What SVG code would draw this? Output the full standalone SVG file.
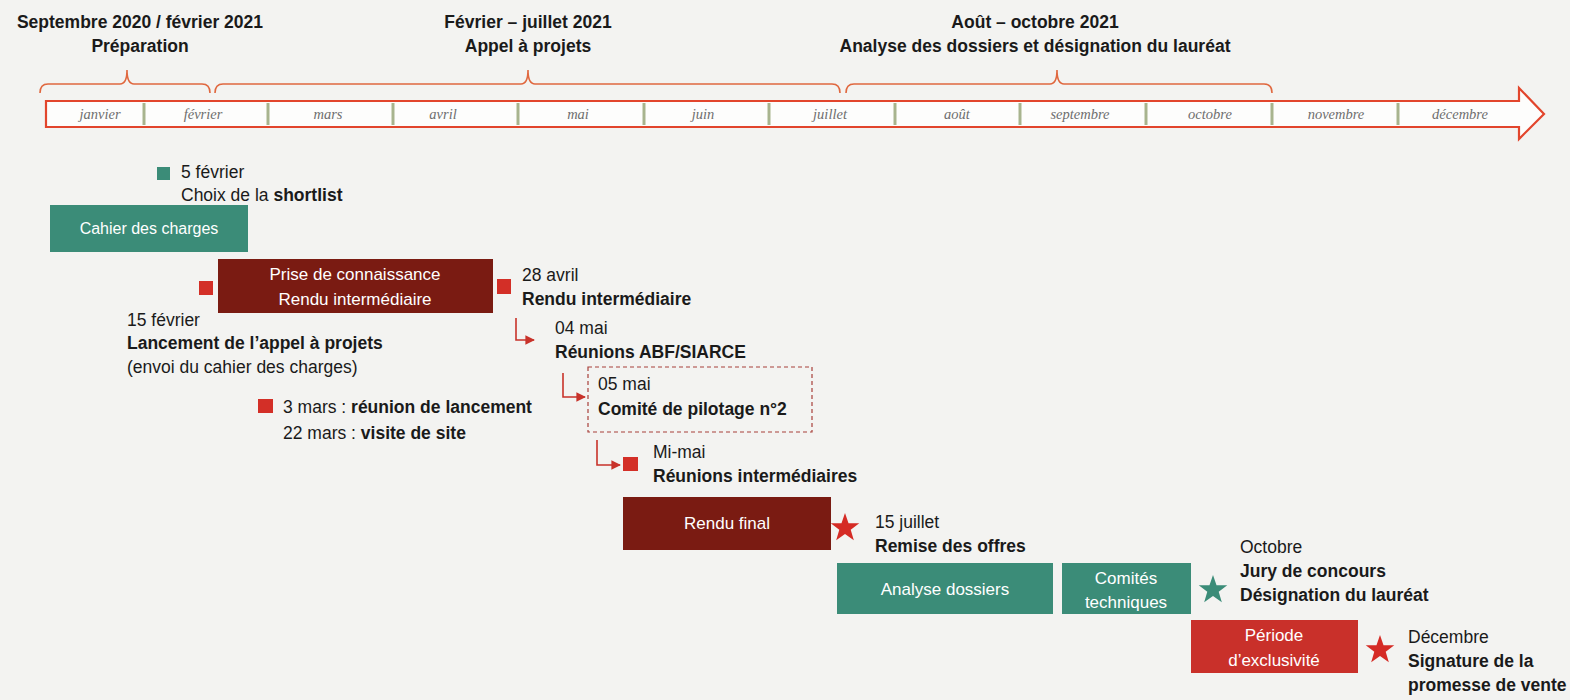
<svg xmlns="http://www.w3.org/2000/svg" width="1570" height="700" viewBox="0 0 1570 700">
<style>
text{font-family:"Liberation Sans",Arial,sans-serif;font-size:17.5px;fill:#1a1a1a}
.b{font-weight:bold}
.h{font-weight:bold;font-size:17.5px;text-anchor:middle}
.m{font-family:"Liberation Serif","Times New Roman",serif;font-style:italic;font-size:14.5px;fill:#6e6e6e;text-anchor:middle}
.w{fill:#fff;text-anchor:middle;font-size:17px}
.teal{fill:#3b8c78}
.dred{fill:#7a1b12}
.red{fill:#c9302a}
.sq{fill:#d32f27}
.brace{fill:none;stroke:#e0683f;stroke-width:1.6}
.div{stroke:#a8b48e;stroke-width:3}
.conn{fill:none;stroke:#c8322a;stroke-width:1.6}
</style>
<defs>
<marker id="ah" viewBox="0 0 10 10" refX="9" refY="5" markerWidth="6" markerHeight="6" orient="auto">
<path d="M0,0 L10,5 L0,10 z" fill="#c8322a"/>
</marker>
<polygon id="star" points="0,-15 3.53,-4.85 14.27,-4.64 5.71,1.85 8.82,12.14 0,6 -8.82,12.14 -5.71,1.85 -14.27,-4.64 -3.53,-4.85"/>
</defs>
<rect width="1570" height="700" fill="#f3f3f1"/>

<g id="headers">
<text class="h" x="140" y="28">Septembre 2020 / février 2021</text>
<text class="h" x="140" y="52">Préparation</text>
<text class="h" x="528" y="28">Février – juillet 2021</text>
<text class="h" x="528" y="52">Appel à projets</text>
<text class="h" x="1035" y="28">Août – octobre 2021</text>
<text class="h" x="1035" y="52">Analyse des dossiers et désignation du lauréat</text>
</g>

<g id="braces">
<path class="brace" d="M40,93 Q40,84 48,84 L120,84 Q127,84 127,70 Q127,84 134,84 L202,84 Q210,84 210,93"/>
<path class="brace" d="M215,93 Q215,84 223,84 L521,84 Q528,84 528,70 Q528,84 535,84 L832,84 Q840,84 840,93"/>
<path class="brace" d="M846,93 Q846,84 854,84 L1050,84 Q1057,84 1057,70 Q1057,84 1064,84 L1264,84 Q1272,84 1272,93"/>
</g>

<g id="timeline">
<path d="M46,101 H1519 V88 L1544,114 L1519,139 V127 H46 Z" fill="#fdfdfc" stroke="#e2452c" stroke-width="2.2"/>
<g class="div">
<line x1="144" y1="103" x2="144" y2="125"/>
<line x1="268" y1="103" x2="268" y2="125"/>
<line x1="393" y1="103" x2="393" y2="125"/>
<line x1="518" y1="103" x2="518" y2="125"/>
<line x1="644" y1="103" x2="644" y2="125"/>
<line x1="769" y1="103" x2="769" y2="125"/>
<line x1="895" y1="103" x2="895" y2="125"/>
<line x1="1020" y1="103" x2="1020" y2="125"/>
<line x1="1146" y1="103" x2="1146" y2="125"/>
<line x1="1272" y1="103" x2="1272" y2="125"/>
<line x1="1398" y1="103" x2="1398" y2="125"/>
</g>
<text class="m" x="100" y="119">janvier</text>
<text class="m" x="203" y="119">février</text>
<text class="m" x="328" y="119">mars</text>
<text class="m" x="443" y="119">avril</text>
<text class="m" x="578" y="119">mai</text>
<text class="m" x="703" y="119">juin</text>
<text class="m" x="830" y="119">juillet</text>
<text class="m" x="957" y="119">août</text>
<text class="m" x="1080" y="119">septembre</text>
<text class="m" x="1210" y="119">octobre</text>
<text class="m" x="1336" y="119">novembre</text>
<text class="m" x="1460" y="119">décembre</text>
</g>

<g id="connectors">
<path class="conn" d="M516,318 V340 H534" marker-end="url(#ah)"/>
<path class="conn" d="M563,373 V397 H585" marker-end="url(#ah)"/>
<path class="conn" d="M597,440 V465 H620" marker-end="url(#ah)"/>
</g>

<g id="shortlist">
<rect class="teal" x="157" y="167" width="13" height="13"/>
<text x="181" y="178">5 février</text>
<text x="181" y="201">Choix de la <tspan class="b">shortlist</tspan></text>
</g>

<g id="cahier">
<rect class="teal" x="50" y="205" width="198" height="47"/>
<text class="w" x="149" y="234" style="font-size:16px">Cahier des charges</text>
</g>

<g id="prise">
<rect class="sq" x="199" y="281" width="14" height="14"/>
<rect class="dred" x="218" y="259" width="275" height="54"/>
<text class="w" x="355" y="280">Prise de connaissance</text>
<text class="w" x="355" y="305">Rendu intermédiaire</text>
<rect class="sq" x="497" y="279" width="14" height="15"/>
</g>

<g id="avril28">
<text x="522" y="281">28 avril</text>
<text class="b" x="522" y="305">Rendu intermédiaire</text>
</g>

<g id="fevrier15">
<text x="127" y="326">15 février</text>
<text class="b" x="127" y="349">Lancement de l’appel à projets</text>
<text x="127" y="373">(envoi du cahier des charges)</text>
</g>

<g id="mai04">
<text x="555" y="334">04 mai</text>
<text class="b" x="555" y="358">Réunions ABF/SIARCE</text>
</g>

<g id="copil">
<rect x="588" y="367" width="224" height="65" fill="none" stroke="#a8403a" stroke-width="1.2" stroke-dasharray="4,3"/>
<text x="598" y="390">05 mai</text>
<text class="b" x="598" y="415">Comité de pilotage n°2</text>
</g>

<g id="mars">
<rect class="sq" x="258" y="399" width="15" height="14"/>
<text x="283" y="413">3 mars : <tspan class="b">réunion de lancement</tspan></text>
<text x="283" y="439">22 mars : <tspan class="b">visite de site</tspan></text>
</g>

<g id="mimai">
<rect class="sq" x="623" y="457" width="15" height="14"/>
<text x="653" y="458">Mi-mai</text>
<text class="b" x="653" y="482">Réunions intermédiaires</text>
</g>

<g id="rendufinal">
<rect class="dred" x="623" y="497" width="208" height="53"/>
<text class="w" x="727" y="529">Rendu final</text>
<use href="#star" x="845" y="528" fill="#d52b25"/>
<text x="875" y="528">15 juillet</text>
<text class="b" x="875" y="552">Remise des offres</text>
</g>

<g id="analyse">
<rect class="teal" x="837" y="563" width="216" height="51"/>
<text class="w" x="945" y="595">Analyse dossiers</text>
</g>

<g id="comites">
<rect class="teal" x="1062" y="563" width="129" height="51"/>
<text class="w" x="1126" y="584">Comités</text>
<text class="w" x="1126" y="608">techniques</text>
<use href="#star" x="1213" y="590" fill="#3b8c78"/>
<text x="1240" y="553">Octobre</text>
<text class="b" x="1240" y="577">Jury de concours</text>
<text class="b" x="1240" y="601">Désignation du lauréat</text>
</g>

<g id="exclusivite">
<rect class="red" x="1191" y="620" width="167" height="53"/>
<text class="w" x="1274" y="641">Période</text>
<text class="w" x="1274" y="666">d’exclusivité</text>
<use href="#star" x="1380" y="650" fill="#d52b25"/>
<text x="1408" y="643">Décembre</text>
<text class="b" x="1408" y="667">Signature de la</text>
<text class="b" x="1408" y="691">promesse de vente</text>
</g>
</svg>
